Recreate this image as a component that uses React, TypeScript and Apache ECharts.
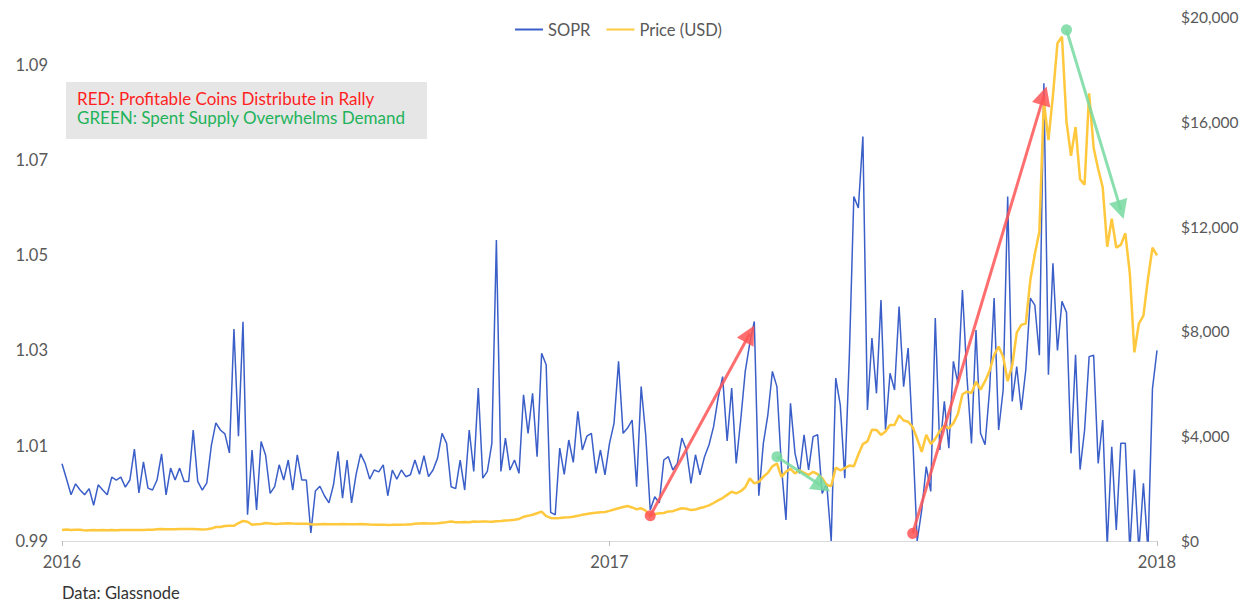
import React, { useEffect, useRef } from 'react';
import * as echarts from 'echarts';

// SOPR, sampled every ~3 days
const soprValues = [
  1.0062, 1.0030, 0.9997, 1.0020, 1.0007, 0.9997, 1.0010, 0.9975, 1.0018, 1.0007,
  0.9997, 1.0034, 1.0028, 1.0034, 1.0013, 1.0028, 1.0093, 1.0001, 1.0066, 1.0011,
  1.0007, 1.0028, 1.0083, 0.9997, 1.0053, 1.0028, 1.0053, 1.0025, 1.0025, 1.0133,
  1.0025, 1.0007, 1.0022, 1.0100, 1.0148, 1.0133, 1.0125, 1.0085, 1.0345, 1.0120,
  1.0360, 0.9955, 1.0091, 0.9965, 1.0109, 1.0080, 1.0000, 1.0014, 1.0060, 1.0028,
  1.0070, 1.0007, 1.0081, 1.0028, 1.0028, 0.9917, 1.0005, 1.0015, 0.9995, 0.9980,
  1.0018, 1.0088, 0.9990, 1.0070, 0.9980, 1.0040, 1.0083, 1.0063, 1.0030, 1.0049,
  1.0045, 1.0060, 0.9995, 1.0049, 1.0030, 1.0049, 1.0035, 1.0039, 1.0070, 1.0040,
  1.0079, 1.0035, 1.0049, 1.0074, 1.0126, 1.0105, 1.0014, 1.0010, 1.0070, 1.0007,
  1.0133, 1.0046, 1.0221, 1.0032, 1.0046, 1.0105, 1.0532, 1.0046, 1.0116, 1.0049,
  1.0070, 1.0042, 1.0207, 1.0126, 1.0210, 1.0077, 1.0294, 1.0270, 0.9960, 0.9955,
  1.0095, 1.0040, 1.0112, 1.0065, 1.0172, 1.0091, 1.0120, 1.0126, 1.0042, 1.0091,
  1.0039, 1.0105, 1.0147, 1.0277, 1.0126, 1.0137, 1.0154, 1.0014, 1.0224, 1.0123,
  0.9965, 0.9993, 0.9980, 1.0070, 1.0077, 1.0049, 1.0063, 1.0116, 1.0091, 1.0021,
  1.0081, 1.0039, 1.0077, 1.0102, 1.0140, 1.0200, 1.0245, 1.0110, 1.0221, 1.0063,
  1.0154, 1.0256, 1.0315, 1.0361, 0.9995, 1.0105, 1.0165, 1.0256, 1.0224, 1.0056,
  0.9944, 1.0189, 1.0084, 1.0042, 1.0123, 1.0049, 1.0119, 1.0123, 1.0000, 1.0021,
  0.9900, 1.0242, 1.0186, 1.0032, 1.0287, 1.0623, 1.0599, 1.0749, 1.0175, 1.0326,
  1.0210, 1.0406, 1.0133, 1.0252, 1.0217, 1.0392, 1.0224, 1.0305, 1.0120, 0.9900,
  0.9965, 1.0056, 1.0004, 1.0368, 1.0091, 1.0193, 1.0095, 1.0277, 1.0231, 1.0427,
  1.0245, 1.0105, 1.0343, 1.0126, 1.0102, 1.0217, 1.0410, 1.0133, 1.0217, 1.0623,
  1.0193, 1.0266, 1.0175, 1.0259, 1.0410, 1.0395, 1.0290, 1.0861, 1.0249, 1.0483,
  1.0300, 1.0403, 1.0380, 1.0084, 1.0291, 1.0050, 1.0133, 1.0287, 1.0290, 1.0063,
  1.0154, 0.9890, 1.0098, 0.9923, 1.0105, 1.0105, 0.9880, 1.0050, 0.9880, 1.0021,
  0.9880, 1.0220, 1.0300,
];

// Price (USD), same sampling
const priceValues = [
  420, 438, 423, 432, 433, 405, 412, 416, 413, 416,
  408, 418, 415, 424, 416, 420, 422, 418, 423, 430,
  427, 449, 458, 445, 448, 450, 459, 460, 454, 457,
  453, 442, 446, 473, 533, 537, 574, 581, 578, 686,
  763, 735, 620, 640, 650, 690, 670, 650, 655, 665,
  675, 665, 660, 655, 655, 640, 632, 640, 645, 642,
  640, 636, 645, 640, 638, 640, 650, 640, 630, 622,
  620, 625, 615, 618, 622, 625, 626, 632, 660, 672,
  675, 670, 668, 680, 700, 720, 745, 712, 718, 722,
  712, 745, 735, 745, 740, 738, 755, 765, 780, 795,
  815, 840, 925, 960, 1000, 1060, 1120, 950, 880, 866,
  880, 900, 910, 928, 960, 1000, 1030, 1057, 1080, 1100,
  1110, 1150, 1200, 1250, 1300, 1336, 1280, 1210, 1247, 1157,
  930, 1030, 1060, 1070, 1130, 1140, 1200, 1250, 1230, 1180,
  1200, 1260, 1300, 1360, 1450, 1550, 1640, 1760, 1880, 1820,
  1900, 2050, 2390, 2200, 2260, 2450, 2600, 2850, 2960, 2450,
  2650, 2750, 2580, 2700, 2600, 2520, 2640, 2550, 2400, 2140,
  2100, 2800, 2700, 2780, 2880, 2850, 3300, 3700, 3800, 4250,
  4240, 4050, 4180, 4430, 4430, 4800, 4600, 4550, 4350, 3900,
  3400, 4050, 3700, 3900, 4200, 4400, 4300, 4500, 4850, 5600,
  5700, 5650, 6080, 5780, 6100, 6500, 7100, 7420, 7035, 6100,
  6700, 7950, 8250, 8300, 9960, 10950, 11800, 16800, 15300, 17000,
  19000, 19250, 16000, 14700, 15800, 13800, 13600, 17090, 15000, 14200,
  13500, 11230, 12300, 11200, 11300, 11745, 10200, 7200, 8300, 8600,
  10000, 11200, 10900,
];

const categories = soprValues.map((_, i) => String(i));
const xTickIndex = [0, 121, 242];
const xTickLabels = ['2016', '2017', '2018'];
const seriesNames = ['SOPR', 'Price (USD)'];

// annotation arrows: [start, end] in [category index, SOPR value]
const redArrows = [
  [[130, 0.9953], [152, 1.0335]],
  [[188, 0.9916], [217, 1.0835]],
];
const greenArrows = [
  [[158, 1.0077], [168, 1.0015]],
  [[222, 1.0973], [234, 1.0595]],
];

const noteLines = ['RED: Profitable Coins Distribute in Rally', 'GREEN: Spent Supply Overwhelms Demand'];
const sourceText = 'Data: Glassnode';

const FONT = 'Lato';

function arrowData(list: number[][][]) {
  return list.map(([a, b]) => [
    { coord: a, symbol: 'circle', symbolSize: 11 },
    { coord: b, symbol: 'triangle', symbolSize: [19, 19] },
  ]);
}

export default function App() {
  const ref = useRef<HTMLDivElement>(null);
  useEffect(() => {
    if (!ref.current) return;
    const chart = echarts.init(ref.current, undefined, { renderer: 'svg' });
    const isTick = (i: number) => xTickIndex.indexOf(i) >= 0;
    chart.setOption({
      animation: false,
      textStyle: { fontFamily: FONT },
      grid: { left: 62, right: 90, top: 17, bottom: 61, containLabel: false },
      legend: {
        data: seriesNames,
        top: 16,
        left: 510,
        icon: 'rect',
        itemWidth: 28,
        itemHeight: 2,
        itemGap: 16,
        textStyle: { fontFamily: FONT, fontSize: 16.5, color: '#595959' },
      },
      xAxis: {
        type: 'category',
        data: categories,
        boundaryGap: false,
        axisLine: { lineStyle: { color: '#D9D9D9', width: 1 } },
        axisTick: {
          show: true,
          interval: (i: number) => isTick(i),
          length: 5,
          lineStyle: { color: '#BFBFBF' },
        },
        axisLabel: {
          interval: (i: number) => isTick(i),
          formatter: (v: string) => {
            const k = xTickIndex.indexOf(Number(v));
            return k >= 0 ? xTickLabels[k] : '';
          },
          margin: 12,
          fontFamily: FONT,
          fontSize: 16.5,
          color: '#595959',
        },
        splitLine: { show: false },
      },
      yAxis: [
        {
          type: 'value',
          min: 0.99,
          max: 1.1,
          interval: 0.01,
          axisLine: { show: false },
          axisTick: { show: false },
          splitLine: { show: false },
          axisLabel: {
            margin: 14,
            fontFamily: FONT,
            fontSize: 16.5,
            color: '#595959',
            formatter: (v: number) => {
              const k = Math.round(v * 100);
              return k % 2 === 1 && k < 110 ? (k / 100).toFixed(2) : '';
            },
          },
        },
        {
          type: 'value',
          min: 0,
          max: 20000,
          interval: 4000,
          axisLine: { show: false },
          axisTick: { show: false },
          splitLine: { show: false },
          axisLabel: {
            margin: 24,
            fontFamily: FONT,
            fontSize: 15.5,
            color: '#595959',
            formatter: (v: number) => '$' + v.toLocaleString('en-US'),
          },
        },
      ],
      series: [
        {
          name: seriesNames[0],
          type: 'line',
          yAxisIndex: 0,
          data: soprValues,
          symbol: 'none',
          lineStyle: { color: '#3B5FC8', width: 1.5 },
          itemStyle: { color: '#3B5FC8' },
          z: 2,
        },
        {
          name: seriesNames[1],
          type: 'line',
          yAxisIndex: 1,
          data: priceValues,
          symbol: 'none',
          lineStyle: { color: '#FFC83D', width: 2.5 },
          itemStyle: { color: '#FFC83D' },
          z: 3,
        },
        {
          name: 'red-arrows',
          type: 'line',
          yAxisIndex: 0,
          data: [],
          z: 5,
          markLine: {
            silent: true,
            label: { show: false },
            lineStyle: { type: 'solid', color: '#FF5555', width: 3, opacity: 0.85 },
            itemStyle: { color: '#FF5555', opacity: 0.85 },
            data: arrowData(redArrows),
          },
        },
        {
          name: 'green-arrows',
          type: 'line',
          yAxisIndex: 0,
          data: [],
          z: 5,
          markLine: {
            silent: true,
            label: { show: false },
            lineStyle: { type: 'solid', color: '#77D9A0', width: 3, opacity: 0.85 },
            itemStyle: { color: '#77D9A0', opacity: 0.85 },
            data: arrowData(greenArrows),
          },
        },
      ],
      graphic: [
        {
          type: 'rect',
          left: 66,
          top: 82,
          shape: { width: 361, height: 57 },
          style: { fill: '#E6E6E6' },
          z: 10,
        },
        {
          type: 'text',
          left: 77,
          top: 90,
          style: { text: noteLines[0], fill: '#FF1F1F', fontFamily: FONT, fontSize: 17 },
          z: 11,
        },
        {
          type: 'text',
          left: 77,
          top: 109,
          style: { text: noteLines[1], fill: '#22B35A', fontFamily: FONT, fontSize: 17 },
          z: 11,
        },
        {
          type: 'text',
          left: 62,
          top: 584,
          style: { text: sourceText, fill: '#333333', fontFamily: FONT, fontSize: 16.5 },
        },
      ],
    });
    return () => chart.dispose();
  }, []);
  return (
    <div
      ref={ref}
      style={{ position: 'fixed', left: 0, top: 0, width: 1247, height: 602, background: '#fff' }}
    />
  );
}
